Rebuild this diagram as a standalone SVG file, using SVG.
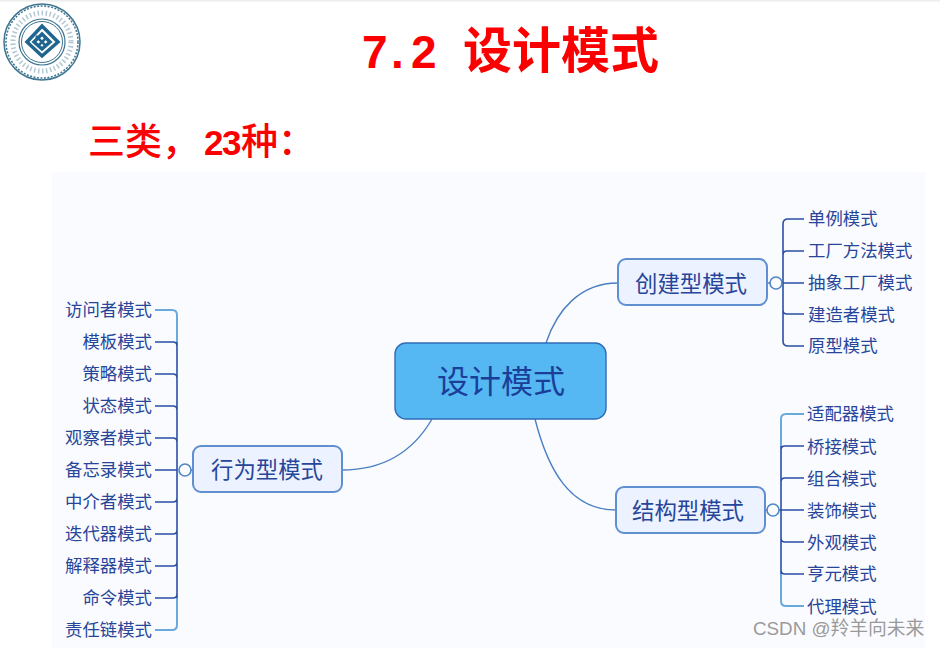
<svg xmlns="http://www.w3.org/2000/svg" width="940" height="648" viewBox="0 0 940 648">
<style>
text{font-family:"Noto Sans CJK SC","Liberation Sans",sans-serif}
.leaf{font-size:17.4px;fill:#27469a;dominant-baseline:central}
.end{text-anchor:end}
.mid{font-size:22.4px;fill:#27469a;text-anchor:middle;dominant-baseline:central}
.box{fill:#ecf2ff;stroke:#5f8fcf;stroke-width:2}
.cur{fill:none;stroke:#4a7fc0;stroke-width:1.4}
.dark{fill:none;stroke:#2a4fa5;stroke-width:1.6}
.light{fill:none;stroke:#6aa9dc;stroke-width:2}
.knob{fill:#fbfcff;stroke:#4f86c4;stroke-width:1.6}
.red{fill:#fa0000;font-weight:500}
.num{font-family:"Liberation Sans",sans-serif;font-weight:700}
</style>
<rect width="940" height="648" fill="#fff"/>
<rect x="0" y="0" width="940" height="1.5" fill="#eeeeee"/>
<rect x="52" y="172" width="873" height="476" fill="#fafbff"/>
<g id="logo" fill="none" stroke="#3f7590">
<circle cx="42" cy="42" r="38" stroke-width="1.5"/>
<circle cx="42" cy="42" r="36" stroke-width="1.5" stroke-dasharray="2 1.5"/>
<circle cx="42" cy="42" r="23" stroke-width="1.2"/>
<circle cx="42" cy="42" r="20.5" stroke-width="1"/>
<circle cx="42" cy="42" r="29" stroke-width="5" stroke-dasharray="1.5 2.5" opacity=".4"/>
<path d="M42 26L58 42L42 56L27 42Z M42 34L50 42L42 49L34 42Z" stroke="#1f6590" stroke-width="3.5"/>
<path d="M36 36L46 46M46 38L38 46" stroke="#1f6590" stroke-width="2.5"/>
</g>
<text id="title" class="red" y="68" font-size="49"><tspan class="num" x="362 391 411" font-size="46">7.2</tspan><tspan x="463" font-weight="700">设计模式</tspan></text>
<text id="subtitle" class="red" y="155" font-size="37"><tspan x="88">三类，</tspan><tspan class="num" x="204 222" y="155" font-size="35">23</tspan><tspan x="241" y="155">种：</tspan></text>
<g id="connectors">
<path class="cur" d="M546 343C557 310 580 283 618 283"/>
<path class="cur" d="M432 419C414 450 385 470 342 470"/>
<path class="cur" d="M535 419C548 470 570 510 616 510"/>
<path class="cur" d="M342 470H343M191 470H193M768 283H770M765 510H767"/>
<path class="light" d="M155 310H172Q177 310 177 315V342M177 598V625Q177 630 172 630H155"/>
<path class="dark" d="M177 342V598M155 342H173Q177 342 177 346M155 374H173Q177 374 177 378M155 406H173Q177 406 177 410M155 438H173Q177 438 177 442M155 470H177M155 502H173Q177 502 177 498M155 534H173Q177 534 177 530M155 566H173Q177 566 177 562M155 598H173Q177 598 177 594"/>
<path class="dark" d="M804 219H788Q783 219 783 224V341Q783 346 788 346H804M804 251H787Q783 251 783 255M804 283H782M804 314H787Q783 314 783 310"/>
<path class="light" d="M804 414H786Q781 414 781 419V446M781 574V601Q781 606 786 606H804"/>
<path class="dark" d="M781 446V574M804 446H785Q781 446 781 450M804 478H785Q781 478 781 482M804 510H779M804 542H785Q781 542 781 538M804 574H785Q781 574 781 570"/>
</g>
<g id="n-root"><rect x="395" y="343" width="211" height="76" rx="11" fill="#55b8f3" stroke="#2f6cb8" stroke-width="1.4"/><text x="501" y="379" font-size="32" fill="#1b3f98" text-anchor="middle" dominant-baseline="central">设计模式</text></g>
<g id="n-create"><rect class="box" x="618" y="259" width="149" height="46" rx="8"/><text class="mid" x="691" y="281.500">创建型模式</text><circle class="knob" cx="776" cy="283" r="6"/></g>
<g id="n-struct"><rect class="box" x="616" y="487" width="149" height="46" rx="8"/><text class="mid" x="688" y="509">结构型模式</text><circle class="knob" cx="773" cy="510" r="6"/></g>
<g id="n-behave"><rect class="box" x="193" y="446" width="149" height="46" rx="8"/><text class="mid" x="267" y="468">行为型模式</text><circle class="knob" cx="185" cy="470" r="6"/></g>
<g id="leaves-behave">
<text class="leaf end" x="152" y="308">访问者模式</text>
<text class="leaf end" x="152" y="340">模板模式</text>
<text class="leaf end" x="152" y="372">策略模式</text>
<text class="leaf end" x="152" y="404">状态模式</text>
<text class="leaf end" x="152" y="436">观察者模式</text>
<text class="leaf end" x="152" y="468">备忘录模式</text>
<text class="leaf end" x="152" y="500">中介者模式</text>
<text class="leaf end" x="152" y="532">迭代器模式</text>
<text class="leaf end" x="152" y="564">解释器模式</text>
<text class="leaf end" x="152" y="596">命令模式</text>
<text class="leaf end" x="152" y="628">责任链模式</text>
</g>
<g id="leaves-create">
<text class="leaf" x="808" y="217">单例模式</text>
<text class="leaf" x="808" y="249.500">工厂方法模式</text>
<text class="leaf" x="808" y="281">抽象工厂模式</text>
<text class="leaf" x="808" y="313">建造者模式</text>
<text class="leaf" x="808" y="344">原型模式</text>
</g>
<g id="leaves-struct">
<text class="leaf" x="807" y="412">适配器模式</text>
<text class="leaf" x="807" y="445">桥接模式</text>
<text class="leaf" x="807" y="477">组合模式</text>
<text class="leaf" x="807" y="509">装饰模式</text>
<text class="leaf" x="807" y="541">外观模式</text>
<text class="leaf" x="807" y="572">亨元模式</text>
<text class="leaf" x="807" y="605">代理模式</text>
</g>
<text id="watermark" x="753" y="635" font-size="18.800" fill="#9a9a9a" style="font-family:'Liberation Sans','Noto Sans CJK SC',sans-serif">CSDN @羚羊向未来</text>
</svg>
